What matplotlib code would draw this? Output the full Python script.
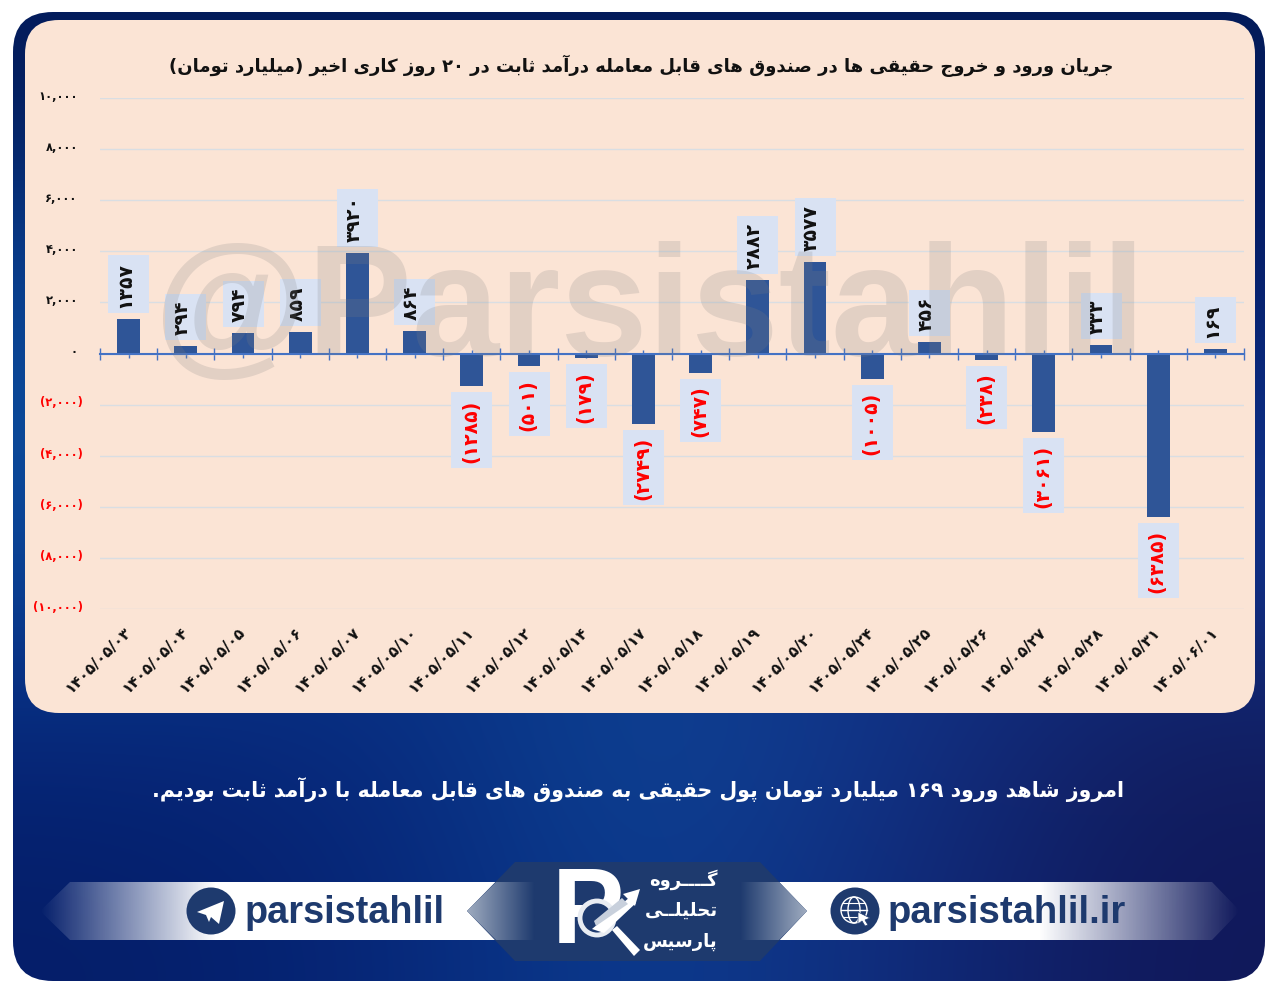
import numpy as np
import matplotlib
matplotlib.use("Agg")
import matplotlib.pyplot as plt
from matplotlib.patches import FancyBboxPatch, Polygon, Circle, Ellipse, Rectangle
from matplotlib.transforms import ScaledTranslation, IdentityTransform

plt.rcParams['font.family'] = ['DejaVu Sans']

dates = ['۱۴۰۵/۰۵/۰۳', '۱۴۰۵/۰۵/۰۴', '۱۴۰۵/۰۵/۰۵', '۱۴۰۵/۰۵/۰۶', '۱۴۰۵/۰۵/۰۷',
         '۱۴۰۵/۰۵/۱۰', '۱۴۰۵/۰۵/۱۱', '۱۴۰۵/۰۵/۱۲', '۱۴۰۵/۰۵/۱۴', '۱۴۰۵/۰۵/۱۷',
         '۱۴۰۵/۰۵/۱۸', '۱۴۰۵/۰۵/۱۹', '۱۴۰۵/۰۵/۲۰', '۱۴۰۵/۰۵/۲۴', '۱۴۰۵/۰۵/۲۵',
         '۱۴۰۵/۰۵/۲۶', '۱۴۰۵/۰۵/۲۷', '۱۴۰۵/۰۵/۲۸', '۱۴۰۵/۰۵/۳۱', '۱۴۰۵/۰۶/۰۱']
flows = [1357, 294, 794, 859, 3920, 864, -1285, -501, -179, -2749,
         -747, 2882, 3577, -1005, 456, -238, -3061, 333, -6385, 169]
y_ticks = [10000, 8000, 6000, 4000, 2000, 0, -2000, -4000, -6000, -8000, -10000]

title = 'جریان ورود و خروج حقیقی ها در صندوق های قابل معامله درآمد ثابت در ۲۰ روز کاری اخیر (میلیارد تومان)'
subtitle = 'امروز شاهد ورود ۱۶۹ میلیارد تومان پول حقیقی به صندوق های قابل معامله با درآمد ثابت بودیم.'
logo_lines = ['گــــروه', 'تحلیلــی', 'پارسیس']

# arabic presentation forms: isolated, final, initial, medial
FORMS = {
    'ا': (0xFE8D, 0xFE8E), 'آ': (0xFE81, 0xFE82), 'د': (0xFEA9, 0xFEAA), 'ذ': (0xFEAB, 0xFEAC),
    'ر': (0xFEAD, 0xFEAE), 'ز': (0xFEAF, 0xFEB0), 'و': (0xFEED, 0xFEEE),
    'ب': (0xFE8F, 0xFE90, 0xFE91, 0xFE92), 'پ': (0xFB56, 0xFB57, 0xFB58, 0xFB59),
    'ت': (0xFE95, 0xFE96, 0xFE97, 0xFE98), 'ث': (0xFE99, 0xFE9A, 0xFE9B, 0xFE9C),
    'ج': (0xFE9D, 0xFE9E, 0xFE9F, 0xFEA0), 'ح': (0xFEA1, 0xFEA2, 0xFEA3, 0xFEA4),
    'خ': (0xFEA5, 0xFEA6, 0xFEA7, 0xFEA8), 'س': (0xFEB1, 0xFEB2, 0xFEB3, 0xFEB4),
    'ش': (0xFEB5, 0xFEB6, 0xFEB7, 0xFEB8), 'ص': (0xFEB9, 0xFEBA, 0xFEBB, 0xFEBC),
    'ع': (0xFEC9, 0xFECA, 0xFECB, 0xFECC), 'ق': (0xFED5, 0xFED6, 0xFED7, 0xFED8),
    'ک': (0xFB8E, 0xFB8F, 0xFB90, 0xFB91), 'گ': (0xFB92, 0xFB93, 0xFB94, 0xFB95),
    'ل': (0xFEDD, 0xFEDE, 0xFEDF, 0xFEE0), 'م': (0xFEE1, 0xFEE2, 0xFEE3, 0xFEE4),
    'ن': (0xFEE5, 0xFEE6, 0xFEE7, 0xFEE8), 'ه': (0xFEE9, 0xFEEA, 0xFEEB, 0xFEEC),
    'ی': (0xFBFC, 0xFBFD, 0xFBFE, 0xFBFF),
}
KASHIDA = 'ـ'
DIGITS = '۰۱۲۳۴۵۶۷۸۹'
to_fa = str.maketrans('0123456789', DIGITS)


def fa(text):
    # matplotlib does no shaping, so join the letters and lay them out by hand
    out = []
    for i, c in enumerate(text):
        if c not in FORMS:
            out.append(c)
            continue
        prev = text[i - 1] if i > 0 else ' '
        nxt = text[i + 1] if i + 1 < len(text) else ' '
        join_prev = prev == KASHIDA or (prev in FORMS and len(FORMS[prev]) == 4)
        join_next = (nxt == KASHIDA or nxt in FORMS) and len(FORMS[c]) == 4
        f = FORMS[c]
        if join_prev and join_next:
            out.append(chr(f[3]))
        elif join_prev:
            out.append(chr(f[1]))
        elif join_next:
            out.append(chr(f[2]))
        else:
            out.append(chr(f[0]))
    out.reverse()
    # digit runs stay left to right, brackets get mirrored
    res, run = [], []
    for c in out:
        if c in DIGITS:
            run.append(c)
            continue
        res.extend(reversed(run))
        run = []
        res.append({'(': ')', ')': '('}.get(c, c))
    res.extend(reversed(run))
    return ''.join(res)


fig = plt.figure(figsize=(12.8, 9.95), dpi=100, facecolor='white')

# background layer in pixel coordinates
bg = fig.add_axes([0, 0, 1, 1], zorder=0)
bg.axis('off')

blue_grid = np.array([
    [[3, 27, 90], [3, 27, 90], [3, 27, 90], [3, 27, 90], [3, 27, 90]],
    [[8, 60, 140], [8, 50, 125], [8, 45, 120], [8, 40, 115], [6, 30, 105]],
    [[12, 76, 155], [10, 60, 140], [12, 50, 135], [14, 50, 135], [12, 45, 130]],
    [[10, 66, 150], [8, 52, 135], [12, 62, 145], [18, 50, 135], [16, 48, 135]],
    [[6, 38, 120], [8, 42, 125], [14, 70, 150], [18, 50, 135], [18, 30, 95]],
    [[5, 30, 105], [6, 38, 120], [12, 62, 145], [16, 44, 125], [16, 24, 90]],
], dtype=float) / 255
frame = FancyBboxPatch((53, 53), 1172, 889, boxstyle='round,pad=40,rounding_size=40',
                       facecolor='none', edgecolor='none')
bg.add_patch(frame)
im = bg.imshow(blue_grid, extent=[13, 1265, 982, 13], interpolation='bicubic', aspect='auto', zorder=1)
im.set_clip_path(frame)

panel = FancyBboxPatch((59, 55), 1162, 625, boxstyle='round,pad=34,rounding_size=34',
                       facecolor='#FBE4D5', edgecolor='none', zorder=2)
bg.add_patch(panel)

# bottom ribbon with faded ends
ribbon_left = np.ones((1, 256, 4))
ribbon_left[0, :, 3] = np.linspace(0.0, 1.0, 256)
ribbon_left_im = bg.imshow(ribbon_left, extent=[40, 215, 941, 883], aspect='auto', zorder=3)
ribbon_left_clip = Polygon([(40, 912), (70, 883), (215, 883), (215, 941), (70, 941)],
                           facecolor='none', edgecolor='none')
bg.add_patch(ribbon_left_clip)
ribbon_left_im.set_clip_path(ribbon_left_clip)
bg.add_patch(Polygon([(215, 883), (540, 883), (540, 941), (215, 941)], facecolor='white', edgecolor='none', zorder=3))

ribbon_right = np.ones((1, 256, 4))
ribbon_right[0, :, 3] = np.linspace(1.0, 0.0, 256)
ribbon_right_im = bg.imshow(ribbon_right, extent=[1040, 1240, 941, 883], aspect='auto', zorder=3)
ribbon_right_clip = Polygon([(1040, 883), (1212, 883), (1240, 912), (1212, 941), (1040, 941)],
                            facecolor='none', edgecolor='none')
bg.add_patch(ribbon_right_clip)
ribbon_right_im.set_clip_path(ribbon_right_clip)
bg.add_patch(Polygon([(740, 883), (1040, 883), (1040, 941), (740, 941)], facecolor='white', edgecolor='none', zorder=3))

# centre plate of the logo
navy = '#1E3A6E'
bg.add_patch(Polygon([(515, 863), (760, 863), (807, 912), (760, 962), (515, 962), (467, 912)],
                     facecolor=navy, edgecolor='none', zorder=4))
fade = np.zeros((1, 64, 3))
c1, c2 = np.array([0.62, 0.67, 0.75]), np.array(matplotlib.colors.to_rgb(navy))
fade[0] = np.linspace(c1, c2, 64)
left_fade = bg.imshow(fade, extent=[467, 535, 941, 883], aspect='auto', zorder=5)
left_clip = Polygon([(467, 912), (496, 883), (535, 883), (535, 941), (496, 941)],
                    facecolor='none', edgecolor='none')
bg.add_patch(left_clip)
left_fade.set_clip_path(left_clip)
right_fade = bg.imshow(fade[:, ::-1], extent=[740, 807, 941, 883], aspect='auto', zorder=5)
right_clip = Polygon([(807, 912), (779, 883), (740, 883), (740, 941), (779, 941)],
                     facecolor='none', edgecolor='none')
bg.add_patch(right_clip)
right_fade.set_clip_path(right_clip)
bg.set_xlim(0, 1280)
bg.set_ylim(995, 0)

# logo mark
bg.text(552, 943, 'P', color='white', fontsize=78, family='Liberation Sans', weight='bold', va='baseline', zorder=6)
bg.add_patch(Circle((597, 919), 17, facecolor=navy, edgecolor='#E8ECF2', lw=3.5, zorder=7))
bg.add_patch(Polygon([(612, 931), (617, 927), (640, 951), (634, 957)], facecolor='white', edgecolor='none', zorder=7))
bg.add_patch(Polygon([(592, 930), (630, 898), (636, 904), (604, 934)], facecolor='white', edgecolor='none', zorder=8))
bg.add_patch(Polygon([(594, 922), (622, 899), (628, 905), (596, 927)], facecolor='#C8D0DC', edgecolor='none', zorder=8))
bg.add_patch(Polygon([(640, 890), (623, 895), (635, 907)], facecolor='white', edgecolor='none', zorder=8))
for i, line in enumerate(logo_lines):
    bg.text(718, 880 + i * 31, fa(line), color='white', fontsize=13, weight='bold', ha='right', va='center', zorder=6)

# social links
bg.add_patch(Ellipse((211, 912), 49, 47, facecolor=navy, edgecolor='none', zorder=6))
bg.add_patch(Polygon([(197, 913), (224, 902), (219, 925), (211, 918), (209, 923), (206, 916)],
                     facecolor='white', edgecolor='none', zorder=7))
bg.text(245, 923, 'parsistahlil', color=navy, fontsize=27.3, family='Liberation Sans', weight='bold', zorder=6)
bg.add_patch(Ellipse((855, 912), 49, 47, facecolor=navy, edgecolor='none', zorder=6))
bg.add_patch(Circle((854, 911), 13, facecolor='none', edgecolor='white', lw=1, zorder=7))
bg.add_patch(Ellipse((854, 911), 12, 26, facecolor='none', edgecolor='white', lw=1, zorder=7))
bg.plot([841, 867], [911, 911], color='white', lw=1, zorder=7)
bg.plot([843, 865], [904, 904], color='white', lw=0.8, zorder=7)
bg.plot([843, 865], [918, 918], color='white', lw=0.8, zorder=7)
bg.add_patch(Polygon([(858, 913), (870, 919), (865, 921), (868, 926), (865, 927), (862, 922), (858, 925)],
                     facecolor='white', edgecolor=navy, lw=0.5, zorder=8))
bg.text(888, 923, 'parsistahlil.ir', color=navy, fontsize=27.5, family='Liberation Sans', weight='bold', zorder=6)

bg.text(641, 66, fa(title), color='#111111', fontsize=13, weight='bold', ha='center', va='center', zorder=6)
bg.text(638, 790, fa(subtitle), color='white', fontsize=14.8, weight='bold', ha='center', va='center', zorder=6)
bg.set_xlim(0, 1280)
bg.set_ylim(995, 0)

# the chart itself
W, H = 1280.0, 995.0
ax = fig.add_axes([100 / W, (H - 610) / H, 1144 / W, 511 / H], zorder=1)
ax.patch.set_alpha(0)
x = np.arange(len(flows))
ax.bar(x, flows, width=0.4, color='#2F5597', zorder=3)
ax.set_xlim(-0.5, len(flows) - 0.5)
ax.set_ylim(-10000, 10000)

for s in ['top', 'left', 'right']:
    ax.spines[s].set_visible(False)
ax.spines['bottom'].set_position(('data', 0))
ax.spines['bottom'].set_color('#4472C4')
ax.spines['bottom'].set_linewidth(1.5)
ax.spines['bottom'].set_zorder(4)
ax.yaxis.grid(True, color='#D9DEE3', lw=1)
ax.set_axisbelow(True)

ax.set_xticks(np.arange(len(flows) + 1) - 0.5)
ax.set_xticklabels([])
ax.set_xticks(x, minor=True)
ax.set_xticklabels(dates, minor=True, rotation=45, ha='right', va='center', rotation_mode='anchor',
                   fontsize=11, weight='bold', color='#111111')
ax.tick_params(axis='x', which='major', direction='inout', length=9, width=1, color='#4472C4')
ax.tick_params(axis='x', which='minor', direction='inout', length=6, width=1, color='#4472C4', pad=195)


def y_label(v):
    s = f'{abs(v):,}'.translate(to_fa)
    return f'({s})' if v < 0 else s


def bar_label(v):
    s = str(abs(v)).translate(to_fa)
    return f'({s})' if v < 0 else s


ax.set_yticks(y_ticks)
ax.set_yticklabels([y_label(v) for v in y_ticks], fontsize=8.3, weight='bold')
ax.tick_params(axis='y', length=0, pad=16)
for v, tl in zip(y_ticks, ax.get_yticklabels()):
    dx = 3.6 if v < 0 else 0
    tl.set_transform(tl.get_transform() + ScaledTranslation(dx / 72, 3 / 72, fig.dpi_scale_trans))
    tl.set_color('red' if v < 0 else '#111111')

# data labels sit on a pale box just past the end of each bar
renderer = fig.canvas.get_renderer()
for xi, v in zip(x, flows):
    sign = 1 if v > 0 else -1
    t = ax.annotate(bar_label(v), (xi, v), xytext=(-2.5 if v > 0 else -0.7, sign * 8.6), textcoords='offset points',
                    rotation=90, ha='center', va='bottom' if v > 0 else 'top', fontsize=13.5, weight='bold',
                    color='#111111' if v > 0 else 'red', zorder=5)
    ext = t.get_window_extent(renderer)
    cx = ax.transData.transform((xi, 0))[0]
    ax.add_patch(Rectangle((cx - 20.5, ext.y0 - 6), 41, ext.height + 12, transform=IdentityTransform(),
                           facecolor='#D9E2F3', edgecolor='none', zorder=4.5, clip_on=False))

# watermark goes over everything
fig.text(154 / W, (H - 355) / H, '@Parsistahlil', fontsize=113, family='Liberation Sans',
         weight='bold', color='gray', alpha=0.2, va='baseline', zorder=5)

fig.savefig('out.png', dpi=100)
